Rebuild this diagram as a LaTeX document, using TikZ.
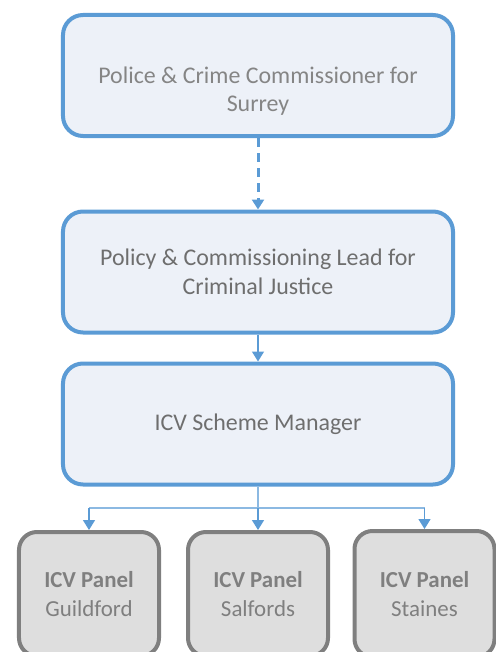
\documentclass[tikz,border=0pt]{standalone}
\usepackage{fontspec}
\setmainfont{Carlito}
\usetikzlibrary{arrows.meta}
\definecolor{boxblue}{HTML}{5B9BD5}
\definecolor{boxfill}{HTML}{EDF1F8}
\definecolor{panelgray}{HTML}{7F7F7F}
\definecolor{panelfill}{HTML}{DEDEDE}
\definecolor{lighttext}{HTML}{858585}
\definecolor{darktext}{HTML}{6E6E6E}
\tikzset{
  rolebox/.style={draw=boxblue, fill=boxfill, line width=4bp, rounded corners=20bp,
    minimum width=390bp, minimum height=121bp, align=center,
    font=\fontsize{24}{29}\selectfont, text=darktext},
  panelbox/.style={draw=panelgray, fill=panelfill, line width=4bp, rounded corners=18bp,
    minimum width=140bp, minimum height=124bp, align=center,
    font=\fontsize{23}{29}\selectfont, text=panelgray},
  link/.style={draw=boxblue, line width=1.5bp, -{Triangle[width=12bp,length=10bp]}},
  branch/.style={draw=boxblue!70, line width=1.5bp}
}
\begin{document}
\begin{tikzpicture}[x=1bp,y=-1bp]
  \useasboundingbox (0,0) rectangle (496,652);
  \clip (0,0) rectangle (496,652);

  % Boxes
  \node[rolebox, text=lighttext] (pcc) at (258,75.5) {{}\\[19bp]Police \& Crime Commissioner for\\Surrey};
  \node[rolebox] (lead) at (258,272) {Policy \& Commissioning Lead for\\Criminal Justice};
  \node[rolebox] (manager) at (258,424) {ICV Scheme Manager};

  % Panels
  \node[panelbox] (guildford) at (89,594) {\textbf{ICV Panel}\\Guildford};
  \node[panelbox] (salfords) at (258,594) {\textbf{ICV Panel}\\Salfords};
  \node[panelbox, minimum height=126bp] (staines) at (424.5,594) {\textbf{ICV Panel}\\Staines};

  % Links
  \draw[link, line width=3bp, dash pattern=on 9bp off 6bp] (pcc) -- (lead);
  \draw[link] (lead) -- (manager);
  \coordinate (split) at (258,508);
  \draw[branch] (manager.south) -- (split);
  \draw[branch] (split -| guildford) -- (split -| staines);
  \draw[link] (split -| guildford) -- (guildford.north);
  \draw[link] (split) -- (salfords.north);
  \draw[link] (split -| staines) -- (staines.north);
\end{tikzpicture}
\end{document}
